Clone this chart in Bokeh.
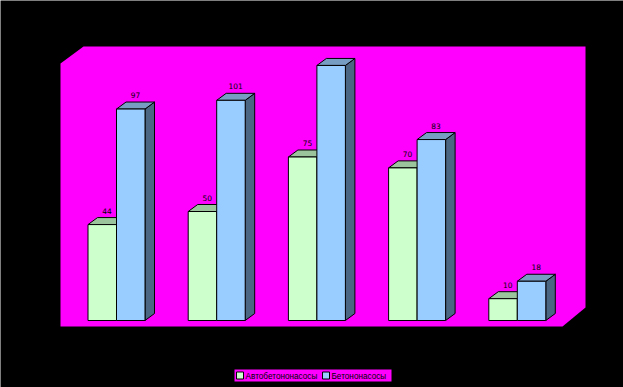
import re
from bokeh.plotting import figure
from bokeh.models import Range1d
from bokeh.core.properties import value
from bokeh.embed import file_html
from bokeh.resources import INLINE

# ---- data ----
groups = ["1", "2", "3", "4", "5"]
series_names = ["Автобетононасосы", "Бетононасосы"]
green_vals = [44, 50, 75, 70, 10]
blue_vals = [97, 101, 117, 83, 18]
y_max_shown = 118  # labels above this are clipped off the chart

# ---- styles ----
MAGENTA = "#ff00ff"
GREEN_FRONT, GREEN_TOP, GREEN_SIDE = "#ccffcc", "#9cc49c", "#668066"
BLUE_FRONT, BLUE_TOP, BLUE_SIDE = "#99ccff", "#789dc3", "#4a6683"

# pixel -> data helpers (reference pixel coords)
PX0, PXU = 116.0, 100.2
PY0, PYU = 320.0, 2.18
def X(px): return (px - PX0) / PXU
def Y(py): return (PY0 - py) / PYU

W, H = 623, 387
p = figure(width=W, height=H, output_backend="svg", toolbar_location=None,
           x_range=Range1d(X(0), X(W)), y_range=Range1d(Y(H), Y(0)),
           min_border=0, background_fill_color="black", border_fill_color="black",
           outline_line_color=None)
p.axis.visible = False
p.grid.visible = False

# back wall / floor (magenta)
wall_px = [(60, 326), (60, 63), (83, 46), (585, 46), (585, 307), (562, 326)]
p.patch([X(a) for a, b in wall_px], [Y(b) for a, b in wall_px],
        fill_color=MAGENTA, line_color=None)

DX = 9.5 / PXU
DY = 7.0 / PYU
GW = 28.5 / PXU  # bar width

def bar3d(l, r, v, front, top, side):
    p.patch([r, r, r + DX, r + DX], [0, v, v + DY, DY],
            fill_color=side, line_color="black", line_width=1)
    p.patch([l, r, r + DX, l + DX], [v, v, v + DY, v + DY],
            fill_color=top, line_color="black", line_width=1)
    p.quad(left=l, right=r, bottom=0, top=v,
           fill_color=front, line_color="black", line_width=1)

label_x, label_y, label_t = [], [], []
for i, (g, b) in enumerate(zip(green_vals, blue_vals)):
    c = float(i)
    bar3d(c - GW, c, g, GREEN_FRONT, GREEN_TOP, GREEN_SIDE)
    bar3d(c, c + GW, b, BLUE_FRONT, BLUE_TOP, BLUE_SIDE)
    for l, r, v in [(c - GW, c, g), (c, c + GW, b)]:
        if v <= y_max_shown - 5:
            label_x.append((l + r) / 2 + DX / 2)
            label_y.append(v + DY + 4 / PYU)
            label_t.append(str(v))

p.text(label_x, label_y, text=label_t, text_align="center", text_baseline="bottom",
       text_font=value("DejaVu Sans"), text_font_size="7.5px", text_color="black")

# legend
p.quad(left=X(234), right=X(391), bottom=Y(381), top=Y(369),
       fill_color=MAGENTA, line_color=None)
sw_x = [236, 322]
tx_x = [245, 331]
for sx, tx, col, name in zip(sw_x, tx_x, [GREEN_FRONT, BLUE_FRONT], series_names):
    p.quad(left=X(sx), right=X(sx + 7), bottom=Y(378.5), top=Y(371.5),
           fill_color=col, line_color="black", line_width=1)
    p.text([X(tx)], [Y(375.5)], text=[name], text_align="left", text_baseline="middle",
           text_font=value("Liberation Sans"), text_font_size="8.2px", text_color="black")

html = file_html(p, INLINE)
html = re.sub(r"<body([^>]*)>", r'<body\1 style="background:#000000;">', html, count=1)
open("out.html", "w").write(html)
